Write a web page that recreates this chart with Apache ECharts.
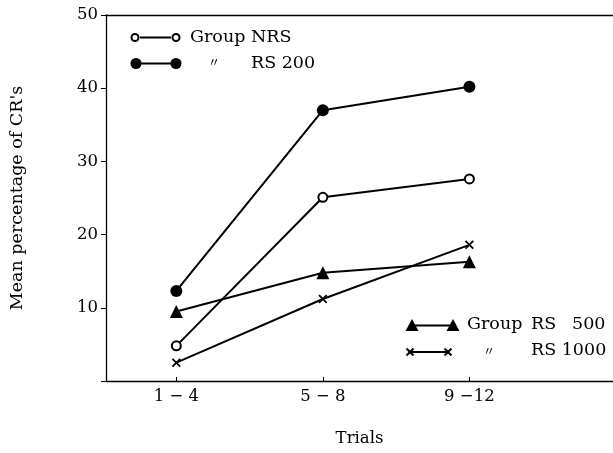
<!DOCTYPE html>
<html>
<head>
<meta charset="utf-8">
<script src="https://cdn.jsdelivr.net/npm/echarts@6/dist/echarts.min.js"></script>
<style>html,body{margin:0;padding:0;background:#fff;}#c{width:613px;height:453px;}</style>
</head>
<body>
<div id="c"></div>
<script>
const trialPositions = [1, 2, 3];
const trialLabels = ['1 − 4', '5 − 8', '9 −12'];
const nrs = [4.8, 25.1, 27.6];
const rs200 = [12.3, 37.0, 40.2];
const rs500 = [9.5, 14.8, 16.3];
const rs1000 = [2.5, 11.2, 18.6];
const yTicks = [10, 20, 30, 40, 50];

const FONT = 'DejaVu Serif';
const crossPath = 'path://M0,1.4L1.4,0L5,3.6L8.6,0L10,1.4L6.4,5L10,8.6L8.6,10L5,6.4L1.4,10L0,8.6L3.6,5Z';

function pts(vals) { return trialPositions.map((x, i) => [x, vals[i]]); }

const chart = echarts.init(document.getElementById('c'));
const baseLine = { type: 'line', lineStyle: { color: '#000', width: 2 }, itemStyle: { color: '#000' }, silent: true, animation: false, z: 3 };

const textStyle = { fontFamily: FONT, fontSize: 16, fill: '#000' };
function txt(x, y, s, extra) { return { type: 'text', x: x, y: y, style: Object.assign({ text: s }, textStyle, extra || {}) }; }
function ln(x1, y1, x2, y2, w) { return { type: 'line', shape: { x1: x1, y1: y1, x2: x2, y2: y2 }, style: { stroke: '#000', lineWidth: w || 2 } }; }
function cross(cx, cy, h) { return [ln(cx - h, cy - h, cx + h, cy + h), ln(cx + h, cy - h, cx - h, cy + h)]; }

chart.setOption({
  animation: false,
  backgroundColor: '#fff',
  grid: { left: 105, right: 0, top: 15, bottom: 72, containLabel: false },
  xAxis: [{
    type: 'value', min: 0.52, max: 3.98,
    axisLine: { lineStyle: { color: '#000', width: 1.3 } },
    axisTick: { show: true, inside: true, length: 4, customValues: trialPositions, lineStyle: { color: '#000' } },
    axisLabel: { customValues: trialPositions, formatter: v => trialLabels[trialPositions.indexOf(v)] || '', color: '#000', fontFamily: FONT, fontSize: 16.5, margin: 7 },
    splitLine: { show: false },
    name: 'Trials', nameLocation: 'middle', nameGap: 49,
    nameTextStyle: { color: '#000', fontFamily: FONT, fontSize: 16.5 }
  }, {
    type: 'value', position: 'top', min: 0.52, max: 3.98,
    axisLine: { show: true, lineStyle: { color: '#000', width: 1.3 } },
    axisTick: { show: false }, axisLabel: { show: false }, splitLine: { show: false }
  }],
  yAxis: {
    type: 'value', min: 0, max: 50, interval: 10,
    axisLine: { show: true, lineStyle: { color: '#000', width: 1.3 } },
    axisTick: { show: true, length: 5, lineStyle: { color: '#000' } },
    axisLabel: { formatter: v => (yTicks.indexOf(v) >= 0 ? String(v) : ''), color: '#000', fontFamily: FONT, fontSize: 16.5, margin: 8 },
    splitLine: { show: false },
    name: "Mean percentage of CR's", nameLocation: 'middle', nameRotate: 90, nameGap: 80,
    nameTextStyle: { color: '#000', fontFamily: FONT, fontSize: 17.5 }
  },
  series: [
    Object.assign({}, baseLine, { name: 'Group NRS', data: pts(nrs), symbol: 'emptyCircle', symbolSize: 9, itemStyle: { color: '#000', borderWidth: 2 } }),
    Object.assign({}, baseLine, { name: 'RS 200', data: pts(rs200), symbol: 'circle', symbolSize: 12 }),
    Object.assign({}, baseLine, { name: 'RS 500', data: pts(rs500), symbol: 'triangle', symbolSize: 13 }),
    Object.assign({}, baseLine, { name: 'RS 1000', data: pts(rs1000), symbol: crossPath, symbolSize: 9 })
  ],
  graphic: [
    ln(140, 37.5, 171, 37.5),
    { type: 'circle', shape: { cx: 135, cy: 37.5, r: 3.5 }, style: { fill: '#fff', stroke: '#000', lineWidth: 2 } },
    { type: 'circle', shape: { cx: 176, cy: 37.5, r: 3.5 }, style: { fill: '#fff', stroke: '#000', lineWidth: 2 } },
    txt(190, 28, 'Group NRS', { fontSize: 17.5 }),
    ln(136, 63.5, 176, 63.5),
    { type: 'circle', shape: { cx: 136, cy: 63.5, r: 5.5 }, style: { fill: '#000' } },
    { type: 'circle', shape: { cx: 176, cy: 63.5, r: 5.5 }, style: { fill: '#000' } },
    txt(208, 56, '〃', { fontFamily: 'Noto Sans CJK JP', fontSize: 12 }),
    txt(251, 54, 'RS 200', { fontSize: 17.5 }),
    ln(412, 325.5, 453, 325.5),
    { type: 'polygon', shape: { points: [[412, 319], [418.5, 331], [405.5, 331]] }, style: { fill: '#000' } },
    { type: 'polygon', shape: { points: [[453, 319], [459.5, 331], [446.5, 331]] }, style: { fill: '#000' } },
    txt(467, 315, 'Group', { fontSize: 17.5 }),
    txt(531, 315, 'RS', { fontSize: 17.5 }),
    txt(572, 315, '500', { fontSize: 17.5 }),
    ln(410, 352, 448, 352),
    ...cross(410, 352, 3.5),
    ...cross(448, 352, 3.5),
    txt(483, 345, '〃', { fontFamily: 'Noto Sans CJK JP', fontSize: 12 }),
    txt(531, 341, 'RS 1000', { fontSize: 17.5 })
  ]
});
</script>
</body>
</html>
